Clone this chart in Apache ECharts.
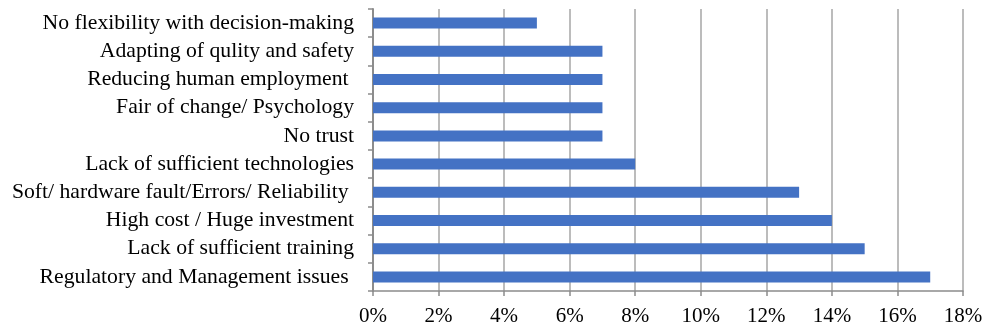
<!DOCTYPE html>
<html>
<head>
<meta charset="utf-8">
<script src="https://cdn.jsdelivr.net/npm/echarts@6/dist/echarts.min.js"></script>
<style>html,body{margin:0;padding:0;background:#fff;}#c{width:986px;height:329px;}</style>
</head>
<body>
<div id="c"></div>
<script>
// Top-to-bottom order
const categories = [
  "No flexibility with decision-making",
  "Adapting of qulity and safety",
  "Reducing human employment ",
  "Fair of change/ Psychology",
  "No trust",
  "Lack of sufficient technologies",
  "Soft/ hardware fault/Errors/ Reliability ",
  "High cost / Huge investment",
  "Lack of sufficient training",
  "Regulatory and Management issues "
];
const values = [5, 7, 7, 7, 7, 8, 13, 14, 15, 17];
const xTicks = { min: 0, max: 18, interval: 2 };

const chart = echarts.init(document.getElementById('c'), null, { renderer: 'canvas' });
const font = "'Liberation Serif', 'Times New Roman', serif";
chart.setOption({
  animation: false,
  grid: { left: 373, right: 23, top: 9, bottom: 38, containLabel: false },
  xAxis: {
    type: 'value',
    min: xTicks.min, max: xTicks.max, interval: xTicks.interval,
    axisLine: { show: true, lineStyle: { color: '#8c8c8c', width: 1.5 } },
    axisTick: { show: true, length: 5, lineStyle: { color: '#8c8c8c', width: 1.5 } },
    splitLine: { show: true, lineStyle: { color: '#a6a6a6', width: 1.5 } },
    axisLabel: { formatter: '{value}%', color: '#000', fontFamily: font, fontSize: 21, margin: 15 }
  },
  yAxis: {
    type: 'category',
    data: categories,
    inverse: true,
    axisLine: { show: true, lineStyle: { color: '#8c8c8c', width: 2 } },
    axisTick: { show: true, length: 5, interval: 0, alignWithLabel: false, lineStyle: { color: '#8c8c8c', width: 1.5 } },
    axisLabel: { color: '#000', fontFamily: font, fontSize: 21.7, margin: 19, interval: 0, hideOverlap: false },
    splitLine: { show: false }
  },
  series: [{
    type: 'bar',
    data: values,
    barWidth: 11,
    itemStyle: { color: '#4472C4' }
  }]
});
</script>
</body>
</html>
